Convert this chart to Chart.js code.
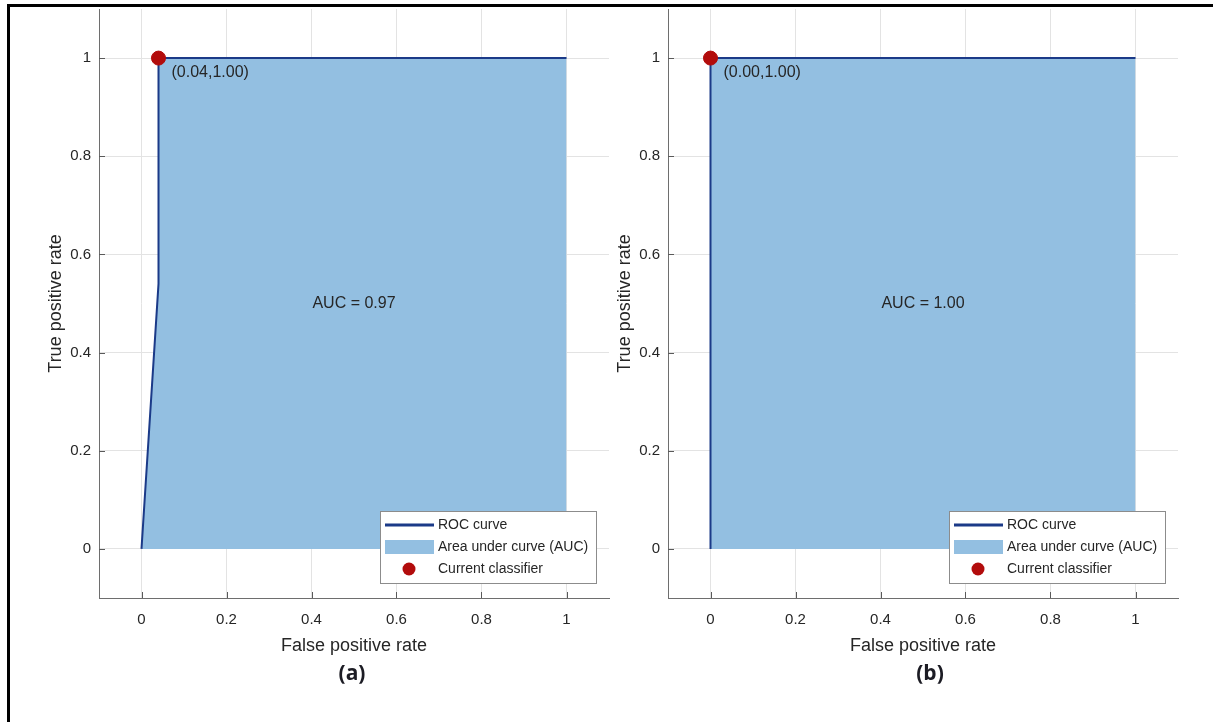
<!DOCTYPE html>
<html>
<head>
<meta charset="utf-8">
<script src="https://cdn.jsdelivr.net/npm/chart.js@4.4.1/dist/chart.umd.min.js"></script>
<style>
  body { margin: 0; background: #fff; width: 1213px; height: 722px; overflow: hidden; position: relative; }
  .frame { position: absolute; top: 4px; left: 7px; width: 1220px; height: 730px; border-top: 3px solid #000; border-left: 3px solid #000; }
  .panel { position: absolute; top: 0; }
  .tag { position: absolute; top: 658px; width: 60px; margin-left: -30px; text-align: center;
         font: bold 21px 'Open Sans', 'Noto Sans', sans-serif; color: #1c1c24; }
</style>
</head>
<body>
<div class="frame"></div>
<div class="panel" style="left:0px"><canvas id="rocA" width="620" height="722"></canvas></div>
<div class="panel" style="left:612px"><canvas id="rocB" width="590" height="722"></canvas></div>
<div class="tag" style="left:352px">(a)</div>
<div class="tag" style="left:930px">(b)</div>

<script>
// axis ticks
const xTicks = [0, 0.2, 0.4, 0.6, 0.8, 1];
const xTickLabels = ['0', '0.2', '0.4', '0.6', '0.8', '1'];
const yTicks = [0, 0.2, 0.4, 0.6, 0.8, 1];
const yTickLabels = ['0', '0.2', '0.4', '0.6', '0.8', '1'];

// panel (a)
const fprA = [0, 0.04, 0.04, 1];
const tprA = [0, 0.54, 1, 1];
const classifierA = [0.04, 1.00];
const aucA = 0.97;

// panel (b)
const fprB = [0, 0, 1];
const tprB = [0, 1, 1];
const classifierB = [0.00, 1.00];
const aucB = 1.00;

const legendLabels = ['ROC curve', 'Area under curve (AUC)', 'Current classifier'];

const FILL = '#93bfe1';
const LINE = '#1b3a88';
const DOT = '#b20c0c';
const TXT = '#262626';

Chart.defaults.font.family = "'Liberation Sans', Arial, sans-serif";
Chart.defaults.color = TXT;

const toPts = (xs, ys) => xs.map((v, i) => ({ x: v, y: ys[i] }));

// MATLAB style ticks pointing into the axes, labels, legend
const rocExtras = {
  id: 'rocExtras',
  afterDatasetsDraw(chart) {
    const { ctx, chartArea: a, scales: { x, y } } = chart;
    const o = chart.options.plugins.rocExtras;
    ctx.save();
    ctx.strokeStyle = '#5a5a5a';
    ctx.lineWidth = 1;
    x.ticks.forEach(t => {
      const px = Math.round(x.getPixelForValue(t.value)) + 0.5;
      ctx.beginPath(); ctx.moveTo(px, a.bottom); ctx.lineTo(px, a.bottom - 6); ctx.stroke();
    });
    y.ticks.forEach(t => {
      const py = Math.round(y.getPixelForValue(t.value)) + 0.5;
      ctx.beginPath(); ctx.moveTo(a.left, py); ctx.lineTo(a.left + 6, py); ctx.stroke();
    });

    // point label and AUC text
    ctx.fillStyle = TXT;
    ctx.font = "16px 'Liberation Sans', Arial, sans-serif";
    ctx.textBaseline = 'middle';
    ctx.textAlign = 'left';
    const cx = x.getPixelForValue(o.point[0]), cy = y.getPixelForValue(o.point[1]);
    ctx.fillText('(' + o.point[0].toFixed(2) + ',' + o.point[1].toFixed(2) + ')', cx + 13, cy + 15);
    ctx.textAlign = 'center';
    ctx.fillText('AUC = ' + o.auc.toFixed(2), x.getPixelForValue(0.5), y.getPixelForValue(0.5));

    // legend box
    const w = 216, h = 72;
    const lx = a.right - 13 - w, ly = a.bottom - 15 - h;
    ctx.fillStyle = '#fff';
    ctx.fillRect(lx, ly, w, h);
    ctx.strokeStyle = '#8c8c8c';
    ctx.strokeRect(lx + 0.5, ly + 0.5, w, h);
    ctx.font = "14px 'Liberation Sans', Arial, sans-serif";
    ctx.textAlign = 'left';
    const rows = [ly + 14, ly + 36, ly + 58];
    ctx.strokeStyle = LINE; ctx.lineWidth = 3;
    ctx.beginPath(); ctx.moveTo(lx + 5, rows[0]); ctx.lineTo(lx + 54, rows[0]); ctx.stroke();
    ctx.fillStyle = FILL;
    ctx.fillRect(lx + 5, rows[1] - 7, 49, 14);
    ctx.fillStyle = DOT;
    ctx.beginPath(); ctx.arc(lx + 29, rows[2], 6.5, 0, Math.PI * 2); ctx.fill();
    ctx.fillStyle = TXT;
    legendLabels.forEach((s, i) => ctx.fillText(s, lx + 58, rows[i]));
    ctx.restore();
  }
};

function makeRoc(id, fpr, tpr, point, auc, pad, yWidth) {
  new Chart(document.getElementById(id), {
    type: 'line',
    data: {
      datasets: [
        { label: legendLabels[1], data: toPts(fpr, tpr), fill: 'origin', backgroundColor: FILL,
          borderWidth: 0, pointRadius: 0, tension: 0, order: 3 },
        { label: legendLabels[0], data: toPts(fpr, tpr), fill: false, borderColor: LINE,
          borderWidth: 2, pointRadius: 0, tension: 0, order: 2 },
        { label: legendLabels[2], data: [{ x: point[0], y: point[1] }], showLine: false,
          pointRadius: 7, pointBackgroundColor: DOT, pointBorderColor: DOT, order: 1 }
      ]
    },
    options: {
      responsive: false,
      animation: false,
      devicePixelRatio: 1,
      layout: { padding: pad },
      plugins: {
        legend: { display: false },
        tooltip: { enabled: false },
        rocExtras: { point: point, auc: auc }
      },
      scales: {
        x: {
          type: 'linear', min: -0.1, max: 1.1,
          afterBuildTicks: s => { s.ticks = xTicks.map(v => ({ value: v })); },
          afterFit: s => { s.height = 58.8; s.paddingLeft = 0; s.paddingRight = 0; },
          ticks: { padding: 13, font: { size: 15 }, color: TXT, callback: (v, i) => xTickLabels[i] },
          grid: { color: '#e3e3e3', drawTicks: false },
          border: { color: '#6e6e6e', width: 1 },
          title: { display: true, text: 'False positive rate', font: { size: 18 }, padding: 0, color: TXT }
        },
        y: {
          type: 'linear', min: -0.1, max: 1.1,
          afterBuildTicks: s => { s.ticks = yTicks.map(v => ({ value: v })); },
          afterFit: s => { s.width = yWidth; s.paddingTop = 0; s.paddingBottom = 0; },
          ticks: { padding: 8, font: { size: 15 }, color: TXT, callback: (v, i) => yTickLabels[i] },
          grid: { color: '#e3e3e3', drawTicks: false },
          border: { color: '#6e6e6e', width: 1 },
          title: { display: true, text: 'True positive rate', font: { size: 18 }, padding: 0, color: TXT }
        }
      }
    },
    plugins: [rocExtras]
  });
}

makeRoc('rocA', fprA, tprA, classifierA, aucA, { top: 9, left: 45.2, right: 11, bottom: 65.2 }, 53.8);
makeRoc('rocB', fprB, tprB, classifierB, aucB, { top: 9, left: 2.2, right: 24, bottom: 65.2 }, 53.8);
</script>
</body>
</html>
